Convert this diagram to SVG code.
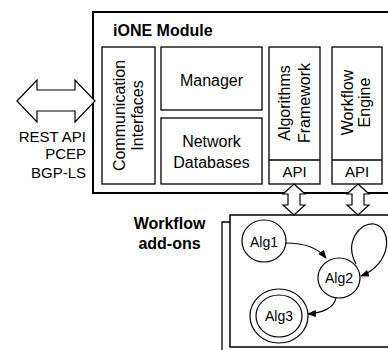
<svg xmlns="http://www.w3.org/2000/svg" width="388" height="350" viewBox="0 0 388 350">
<defs>
<style>
text{font-family:"Liberation Sans",Arial,sans-serif;fill:#000}
.b{fill:#fff;stroke:#000;stroke-width:1.3}
.t{font-size:16px}
.s{font-size:15px}
.bold{font-size:16px;font-weight:bold}
.c{fill:#fff;stroke:#000;stroke-width:1.2}
.e{fill:none;stroke:#000;stroke-width:1.2}
.a{fill:#fff;stroke:#000;stroke-width:1.2;stroke-linejoin:miter}
</style>
<marker id="ah" viewBox="0 0 10 8" refX="9" refY="4" markerWidth="9" markerHeight="7" orient="auto" markerUnits="userSpaceOnUse">
<path d="M0,0 L10,4 L0,8 Z" fill="#000"/>
</marker>
</defs>
<rect width="388" height="350" fill="#fff"/>

<g id="module">
<rect x="93" y="12" width="310" height="181" fill="#fff" stroke="#000" stroke-width="2"/>
<text class="bold" x="113" y="36">iONE Module</text>
</g>

<g id="comm">
<rect class="b" x="102" y="47" width="53" height="137"/>
<text class="t" text-anchor="middle" transform="translate(125,115.5) rotate(-90)">Communication</text>
<text class="t" text-anchor="middle" transform="translate(143,115.5) rotate(-90)">Interfaces</text>
</g>

<g id="manager">
<rect class="b" x="161" y="47" width="101" height="63"/>
<text class="t" text-anchor="middle" x="211.5" y="86">Manager</text>
</g>

<g id="netdb">
<rect class="b" x="161" y="118" width="101" height="66"/>
<text class="t" text-anchor="middle" x="211.5" y="147">Network</text>
<text class="t" text-anchor="middle" x="211.5" y="168">Databases</text>
</g>

<g id="algfw">
<rect class="b" x="269" y="47" width="51" height="137"/>
<line x1="269" y1="160" x2="320" y2="160" stroke="#000" stroke-width="1.3"/>
<text class="t" text-anchor="middle" transform="translate(289.5,103) rotate(-90)">Algorithms</text>
<text class="t" text-anchor="middle" transform="translate(309.5,103) rotate(-90)">Framework</text>
<text class="s" text-anchor="middle" x="294.5" y="177">API</text>
</g>

<g id="wfengine">
<rect class="b" x="332" y="47" width="50" height="137"/>
<line x1="332" y1="160" x2="382" y2="160" stroke="#000" stroke-width="1.3"/>
<text class="t" text-anchor="middle" transform="translate(353,102.5) rotate(-90)">Workflow</text>
<text class="t" text-anchor="middle" transform="translate(370,102.5) rotate(-90)">Engine</text>
<text class="s" text-anchor="middle" x="357" y="177">API</text>
</g>

<g id="protocols">
<text class="s" text-anchor="end" x="86" y="141.5">REST API</text>
<text class="s" text-anchor="end" x="86" y="159">PCEP</text>
<text class="s" text-anchor="end" x="86" y="178">BGP-LS</text>
</g>

<g id="addons-label">
<text class="bold" text-anchor="middle" x="169.5" y="229">Workflow</text>
<text class="bold" text-anchor="middle" x="169.5" y="249">add-ons</text>
</g>

<g id="addons">
<path d="M230,222 L222,222 L222,350" fill="none" stroke="#000" stroke-width="1.3"/>
<rect x="230" y="215" width="170" height="132" fill="#fff" stroke="#000" stroke-width="1.5"/>
</g>

<g id="connectors">
<polygon class="a" points="17,101 37,80 37,90 75,90 75,80 95,101 75,122 75,111 37,111 37,122"/>
<polygon class="a" points="294,184 305,194 300,194 300,205 305,205 294,215 283,205 288,205 288,194 283,194"/>
<polygon class="a" points="358,184 369,194 364,194 364,205 369,205 358,215 347,205 352,205 352,194 347,194"/>
<path class="e" d="M286,243 C305,243 318,248 326,258" marker-end="url(#ah)"/>
<path class="e" d="M356,264 C344,242 360,222 374,224 C393,228 392,264 361,276" marker-end="url(#ah)"/>
<path class="e" d="M336,298 C334,308 322,313 308,314" marker-end="url(#ah)"/>
</g>

<g id="alg1">
<ellipse class="c" cx="264" cy="241" rx="22" ry="21"/>
<text class="t" text-anchor="middle" x="264" y="247" style="font-size:14px">Alg1</text>
</g>

<g id="alg2">
<ellipse class="c" cx="339" cy="278" rx="21" ry="20"/>
<text class="t" text-anchor="middle" x="339" y="283" style="font-size:14px">Alg2</text>
</g>

<g id="alg3">
<ellipse class="c" cx="279" cy="316" rx="29" ry="27"/>
<ellipse class="c" cx="279" cy="316" rx="23" ry="21"/>
<text class="t" text-anchor="middle" x="279" y="321" style="font-size:14px">Alg3</text>
</g>
</svg>
